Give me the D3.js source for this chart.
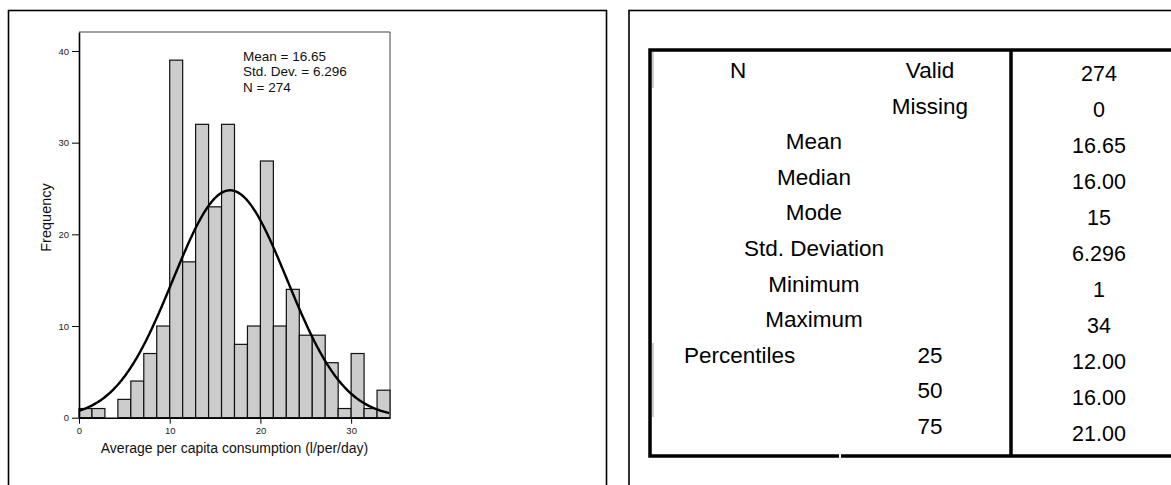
<!DOCTYPE html>
<html>
<head>
<meta charset="utf-8">
<script src="https://cdn.jsdelivr.net/npm/d3@7"></script>
<style>
body { margin: 0; background: #fff; }
svg { display: block; font-family: "Liberation Sans", Arial, Helvetica, sans-serif; }
</style>
</head>
<body>
<svg id="chart" width="1171" height="485"></svg>
<script>
// histogram data (bins of width 10/7 starting at 0)
var binCounts = [1, 1, 0, 2, 4, 7, 10, 39, 17, 32, 23, 32, 8, 10, 28, 10, 14, 9, 9, 6, 1, 7, 1, 3];
var binWidth = 10 / 7;
var xTicks = [0, 10, 20, 30];
var yTicks = [0, 10, 20, 30, 40];
var statLines = ['Mean = 16.65', 'Std. Dev. = 6.296', 'N = 274'];
var mean = 16.65, stdDev = 6.296, nValid = 274;

// statistics table
var groupLabels = ['N', '', 'Mean', 'Median', 'Mode', 'Std. Deviation', 'Minimum', 'Maximum', 'Percentiles', '', ''];
var subLabels = ['Valid', 'Missing', '', '', '', '', '', '', '25', '50', '75'];
var statValues = ['274', '0', '16.65', '16.00', '15', '6.296', '1', '34', '12.00', '16.00', '21.00'];

var svg = d3.select('#chart');

// panel frames
svg.append('rect')
    .attr('x', 8.5).attr('y', 10.5)
    .attr('width', 598).attr('height', 500)
    .attr('fill', 'none').attr('stroke', '#000').attr('stroke-width', 1.6);
svg.append('rect')
    .attr('x', 629).attr('y', 10.5)
    .attr('width', 700).attr('height', 500)
    .attr('fill', 'none').attr('stroke', '#000').attr('stroke-width', 1.6);

// ---- histogram ----
var xMax = binCounts.length * binWidth;
var x = d3.scaleLinear().domain([0, xMax]).range([79, 390]);
var y = d3.scaleLinear().domain([0, 42.07]).range([417.7, 32]);

var plot = svg.append('g');

// top and right edges of the plot box
plot.append('path')
    .attr('d', 'M' + x(0) + ',' + y.range()[1] + 'H' + x(xMax) + 'V' + y(0))
    .attr('fill', 'none').attr('stroke', '#444').attr('stroke-width', 1);

plot.selectAll('.bar')
    .data(binCounts)
  .enter().append('rect')
    .attr('class', 'bar')
    .attr('x', function(d, i) { return x(i * binWidth); })
    .attr('y', function(d) { return y(d); })
    .attr('width', function(d, i) { return x((i + 1) * binWidth) - x(i * binWidth); })
    .attr('height', function(d) { return y(0) - y(d); })
    .attr('fill', '#cccccc')
    .attr('stroke', '#111')
    .attr('stroke-width', 1.2);

// fitted normal curve
var curvePts = d3.range(0, xMax + 0.001, 0.1).map(function(v) {
    var z = (v - mean) / stdDev;
    return [v, nValid * binWidth * Math.exp(-0.5 * z * z) / (stdDev * Math.sqrt(2 * Math.PI))];
});
plot.append('path')
    .datum(curvePts)
    .attr('fill', 'none')
    .attr('stroke', '#000')
    .attr('stroke-width', 2.4)
    .attr('d', d3.line().x(function(d) { return x(d[0]); }).y(function(d) { return y(d[1]); }));

var yAxis = plot.append('g')
    .attr('transform', 'translate(' + x(0) + ',0)')
    .call(d3.axisLeft(y).tickValues(yTicks).tickSize(7).tickPadding(3).tickSizeOuter(0));
var xAxis = plot.append('g')
    .attr('transform', 'translate(0,' + y(0) + ')')
    .call(d3.axisBottom(x).tickValues(xTicks).tickSize(6).tickPadding(4).tickSizeOuter(0));
[xAxis, yAxis].forEach(function(a) {
    a.select('.domain').attr('stroke', '#000').attr('stroke-width', 1.6);
    a.selectAll('.tick line').attr('stroke', '#000').attr('stroke-width', 1);
    a.selectAll('.tick text').attr('font-size', 9.5).attr('fill', '#222')
        .attr('font-family', '"Liberation Sans", Arial, sans-serif');
});

plot.append('text')
    .attr('x', (x(0) + x(xMax)) / 2).attr('y', 453)
    .attr('text-anchor', 'middle').attr('font-size', 14).attr('fill', '#111')
    .text('Average per capita consumption (l/per/day)');
plot.append('text')
    .attr('transform', 'translate(51,217.5) rotate(-90)')
    .attr('text-anchor', 'middle').attr('font-size', 14.5).attr('fill', '#111')
    .text('Frequency');

plot.selectAll('.stat')
    .data(statLines)
  .enter().append('text')
    .attr('class', 'stat')
    .attr('x', 243).attr('y', function(d, i) { return 61 + i * 15.3; })
    .attr('font-size', 13.5).attr('fill', '#111')
    .text(function(d) { return d; });

// ---- statistics table ----
var tLeft = 650, tTop = 50, tBottom = 456, tDivider = 1011;
var rowIdx = d3.range(statValues.length);
var labelY = d3.scaleLinear().domain([0, 10]).range([78, 434]);
var valueY = d3.scaleLinear().domain([0, 10]).range([81, 441]);

var tbl = svg.append('g').attr('fill', '#000');

// faint inner cell edges
tbl.append('line').attr('x1', tLeft + 3).attr('x2', tLeft + 3).attr('y1', 52).attr('y2', 88)
    .attr('stroke', '#999').attr('stroke-width', 1);
tbl.append('line').attr('x1', tLeft + 3).attr('x2', tLeft + 3).attr('y1', 343).attr('y2', 417)
    .attr('stroke', '#999').attr('stroke-width', 1);

tbl.append('path')
    .attr('d', 'M1180,' + tTop + 'H' + tLeft + 'V' + tBottom + 'H1180')
    .attr('fill', 'none').attr('stroke', '#000').attr('stroke-width', 3.5);
tbl.append('line')
    .attr('x1', tDivider).attr('x2', tDivider).attr('y1', tTop).attr('y2', tBottom)
    .attr('stroke', '#000').attr('stroke-width', 3.5);
// small break in the bottom rule
tbl.append('rect').attr('x', 839).attr('y', tBottom - 3).attr('width', 2).attr('height', 6).attr('fill', '#fff');

tbl.selectAll('.grp')
    .data(rowIdx.filter(function(i) { return groupLabels[i]; }))
  .enter().append('text')
    .attr('class', 'grp')
    .attr('font-size', 22.5)
    .attr('x', function(i) {
        if (groupLabels[i] === 'N') return 738;
        if (groupLabels[i] === 'Percentiles') return 684;
        return 814;
    })
    .attr('y', function(i) { return labelY(i); })
    .attr('text-anchor', function(i) { return groupLabels[i] === 'Percentiles' ? 'start' : 'middle'; })
    .text(function(i) { return groupLabels[i]; });

tbl.selectAll('.sub')
    .data(rowIdx.filter(function(i) { return subLabels[i]; }))
  .enter().append('text')
    .attr('class', 'sub')
    .attr('font-size', 22.5)
    .attr('x', 930)
    .attr('y', function(i) { return labelY(i); })
    .attr('text-anchor', 'middle')
    .text(function(i) { return subLabels[i]; });

tbl.selectAll('.val')
    .data(statValues)
  .enter().append('text')
    .attr('class', 'val')
    .attr('font-size', 21.5)
    .attr('x', 1099)
    .attr('y', function(d, i) { return valueY(i); })
    .attr('text-anchor', 'middle')
    .text(function(d) { return d; });
</script>
</body>
</html>
